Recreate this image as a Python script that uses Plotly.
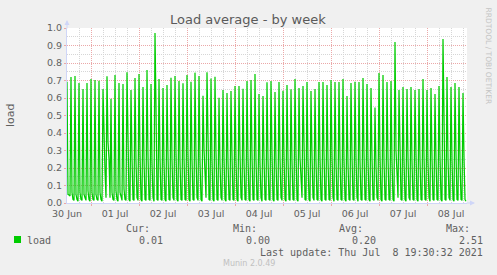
import plotly.graph_objects as go
from datetime import datetime, timedelta

# ---- data (30-minute samples; each 2-hour cycle = peak, fall, trough_a, trough_b) ----
peak = [0.693, 0.720, 0.726, 0.686, 0.651, 0.686, 0.709, 0.703, 0.699, 0.651,
        0.724, 0.596, 0.731, 0.686, 0.680, 0.747, 0.646, 0.714, 0.737, 0.663,
        0.760, 0.680, 0.971, 0.709, 0.657, 0.674, 0.716, 0.726, 0.697, 0.684,
        0.731, 0.693, 0.745, 0.726, 0.613, 0.747, 0.712, 0.722, 0.602, 0.646,
        0.629, 0.640, 0.669, 0.669, 0.653, 0.697, 0.703, 0.737, 0.623, 0.611,
        0.690, 0.697, 0.634, 0.691, 0.642, 0.674, 0.650, 0.709, 0.657, 0.669,
        0.691, 0.640, 0.651, 0.691, 0.691, 0.674, 0.703, 0.691, 0.691, 0.709,
        0.611, 0.686, 0.693, 0.691, 0.714, 0.680, 0.657, 0.545, 0.743, 0.731,
        0.691, 0.697, 0.920, 0.646, 0.663, 0.651, 0.663, 0.646, 0.651, 0.709,
        0.646, 0.657, 0.623, 0.669, 0.937, 0.720, 0.663, 0.686, 0.663, 0.629]

fall = [0.05, 0.06, 0.05, 0.06, 0.05, 0.07, 0.06, 0.05, 0.06, 0.30,
        0.35, 0.06, 0.07, 0.06, 0.08, 0.22, 0.26, 0.24, 0.28, 0.25,
        0.27, 0.23, 0.55, 0.26, 0.24, 0.27, 0.25, 0.29, 0.24, 0.26,
        0.28, 0.25, 0.27, 0.24, 0.31, 0.26, 0.25, 0.29, 0.23, 0.26,
        0.24, 0.27, 0.25, 0.28, 0.24, 0.26, 0.27, 0.25, 0.23, 0.26,
        0.25, 0.28, 0.24, 0.26, 0.27, 0.25, 0.24, 0.28, 0.26, 0.26,
        0.25, 0.27, 0.24, 0.26, 0.28, 0.25, 0.27, 0.24, 0.26, 0.25,
        0.23, 0.27, 0.26, 0.24, 0.28, 0.25, 0.26, 0.22, 0.27, 0.25,
        0.26, 0.24, 0.30, 0.27, 0.25, 0.26, 0.24, 0.28, 0.25, 0.27,
        0.24, 0.26, 0.25, 0.27, 0.50, 0.26, 0.25, 0.28, 0.24, 0.26]

trough_a = [0.045, 0.02, 0.02, 0.02, 0.03, 0.02, 0.02, 0.02, 0.02, 0.18,
            0.25, 0.02, 0.02, 0.03, 0.02, 0.02, 0.02, 0.03, 0.02, 0.02,
            0.02, 0.03, 0.02, 0.02, 0.02, 0.02, 0.03, 0.02, 0.02, 0.02,
            0.02, 0.02, 0.03, 0.02, 0.12, 0.02, 0.02, 0.02, 0.03, 0.02,
            0.02, 0.02, 0.02, 0.03, 0.02, 0.02, 0.02, 0.02, 0.03, 0.02,
            0.02, 0.02, 0.02, 0.03, 0.02, 0.02, 0.02, 0.02, 0.16, 0.02,
            0.02, 0.03, 0.02, 0.02, 0.02, 0.02, 0.03, 0.02, 0.02, 0.02,
            0.02, 0.02, 0.03, 0.02, 0.02, 0.02, 0.02, 0.03, 0.02, 0.02,
            0.02, 0.02, 0.15, 0.02, 0.02, 0.03, 0.02, 0.02, 0.02, 0.02,
            0.03, 0.02, 0.02, 0.02, 0.02, 0.03, 0.02, 0.02, 0.02, 0.02]

trough_b = [0.040, 0.015, 0.010, 0.015, 0.015, 0.010, 0.015, 0.015, 0.010, 0.03,
            0.03, 0.015, 0.010, 0.015, 0.015, 0.010, 0.015, 0.015, 0.010, 0.015,
            0.015, 0.010, 0.015, 0.015, 0.010, 0.015, 0.015, 0.010, 0.015, 0.015,
            0.010, 0.015, 0.015, 0.010, 0.03, 0.015, 0.010, 0.015, 0.015, 0.010,
            0.015, 0.015, 0.010, 0.015, 0.015, 0.010, 0.015, 0.015, 0.010, 0.015,
            0.015, 0.010, 0.015, 0.015, 0.010, 0.015, 0.015, 0.010, 0.03, 0.015,
            0.010, 0.015, 0.015, 0.010, 0.015, 0.015, 0.010, 0.015, 0.015, 0.010,
            0.015, 0.015, 0.010, 0.015, 0.015, 0.010, 0.015, 0.015, 0.010, 0.015,
            0.015, 0.010, 0.03, 0.015, 0.010, 0.015, 0.015, 0.010, 0.015, 0.015,
            0.010, 0.015, 0.015, 0.010, 0.015, 0.015, 0.010, 0.015, 0.015, 0.010]

start_time = datetime(2021, 6, 30, 12, 0)
end_time = datetime(2021, 7, 8, 20, 0)
step_minutes = 30

legend_cols = ["Cur:", "Min:", "Avg:", "Max:"]
legend_vals = ["0.01", "0.00", "0.20", "2.51"]
series_name = "load"
last_update = "Last update: Thu Jul  8 19:30:32 2021"
title_text = "Load average - by week"
y_title = "load"
side_text = "RRDTOOL / TOBI OETIKER"
footer = "Munin 2.0.49"

# ---- build series ----
values = []
for k in range(len(peak)):
    values += [peak[k], fall[k], trough_a[k], trough_b[k]]
times = [start_time + timedelta(minutes=step_minutes * i) for i in range(len(values))]

# ---- layout geometry (pixels) ----
W, H = 497, 275
L, R, T, B = 67, 467, 28, 203
PW, PH = R - L, B - T


def px(x):
    return (x - L) / PW


def py(y):
    return (B - y) / PH


TXT = "#606060"
MONO = "DejaVu Sans Mono"
SANS = "DejaVu Sans"
MGRID = "#EBA8A8"
GRID = "#D6D6D6"
AXIS = "#CFD6F8"

fig = go.Figure()
fig.add_trace(go.Scatter(x=times, y=values, mode="lines",
                         line=dict(color="#00CC00", width=1.25), hoverinfo="skip"))

fig.update_layout(
    width=W, height=H,
    margin=dict(l=L, r=W - R, t=T, b=H - B, pad=0),
    paper_bgcolor="#F0F0F0", plot_bgcolor="#FFFFFF",
    showlegend=False,
    font=dict(family=SANS, size=10, color=TXT),
)

fig.update_xaxes(
    type="date", range=[start_time, end_time],
    tick0="2021-06-30 00:00", dtick=86400000, ticklabelmode="period",
    tickformat="%d %b", tickfont=dict(family=SANS, size=9.5, color=TXT),
    showgrid=True, gridcolor=MGRID, griddash="1px,1px", gridwidth=1,
    ticks="outside", ticklen=2, tickcolor=MGRID,
    minor=dict(dtick=21600000, tick0="2021-06-30 00:00", showgrid=True,
               gridcolor=GRID, griddash="1px,1px", gridwidth=1),
    showline=True, linecolor=AXIS, linewidth=1, zeroline=False,
    fixedrange=True,
)
fig.update_yaxes(
    range=[0, 1.0], dtick=0.1, tick0=0, tickformat=".1f",
    tickfont=dict(family=SANS, size=9.5, color=TXT),
    showgrid=True, gridcolor=MGRID, griddash="1px,1px", gridwidth=1,
    ticks="outside", ticklen=2, tickcolor=MGRID,
    minor=dict(dtick=0.05, tick0=0, showgrid=True, gridcolor=GRID,
               griddash="1px,1px", gridwidth=1),
    showline=True, linecolor=AXIS, linewidth=1, zeroline=False,
    fixedrange=True,
)

ann = []
# axis arrows
ann.append(dict(x=px(L), y=py(20), xref="paper", yref="paper", text="",
                showarrow=True, ax=0, ay=10, arrowhead=2, arrowsize=1,
                arrowwidth=1, arrowcolor=AXIS, standoff=0))
ann.append(dict(x=px(475), y=py(B), xref="paper", yref="paper", text="",
                showarrow=True, ax=-10, ay=0, arrowhead=2, arrowsize=1,
                arrowwidth=1, arrowcolor=AXIS, standoff=0))


def text(x, y, s, size, anchor="left", family=SANS, color=TXT, angle=0):
    ann.append(dict(x=px(x), y=py(y), xref="paper", yref="paper", text=s,
                    showarrow=False, xanchor=anchor, yanchor="middle",
                    font=dict(family=family, size=size, color=color),
                    textangle=angle, borderpad=0, borderwidth=0))


text(247.5, 19, title_text, 13, anchor="center", color="#5A5A5A")
text(10, 115, y_title, 11, anchor="center", angle=-90)
text(488.5, 56, side_text, 7.5, anchor="center", color="#C4C4C4", angle=90)

val_right = [163, 269.5, 376, 483]
for i in range(4):
    text(val_right[i] - 13, 228, legend_cols[i], 10, anchor="right", family=MONO)
    text(val_right[i], 240, legend_vals[i], 10, anchor="right", family=MONO)
text(27, 240, series_name, 10, anchor="left", family=MONO)
text(483, 252, last_update, 10, anchor="right", family=MONO)
text(248.5, 263, footer, 8, anchor="center", color="#C0C0C0")

fig.update_layout(annotations=ann)
fig.add_shape(type="rect", xref="paper", yref="paper",
              x0=px(14), x1=px(21), y0=py(243), y1=py(236),
              fillcolor="#00CC00", line=dict(width=0))

fig.write_html("out.html")
